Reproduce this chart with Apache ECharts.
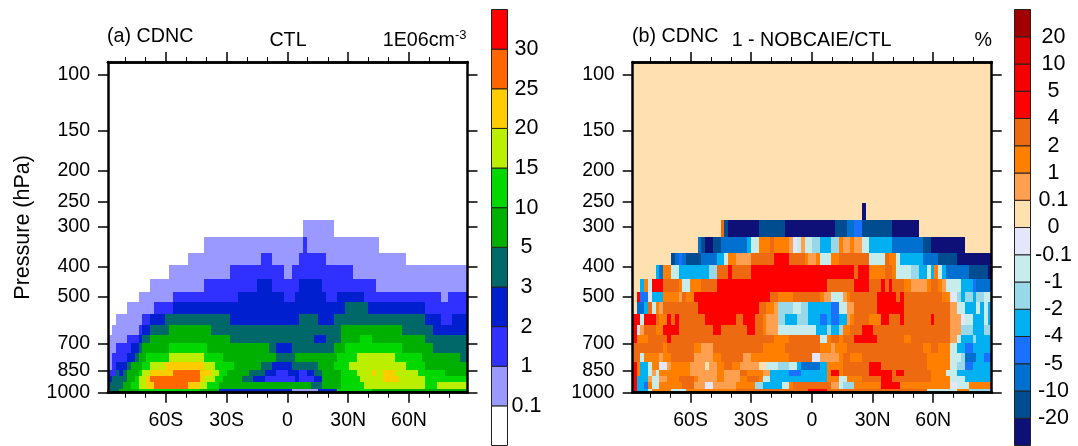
<!DOCTYPE html>
<html>
<head>
<meta charset="utf-8">
<style>html,body{margin:0;padding:0;background:#fff}#main{width:1078px;height:446px}</style>
<script src="https://cdn.jsdelivr.net/npm/echarts@6/dist/echarts.min.js"></script>
</head>
<body>
<div id="main"></div>
<script>
// latitude grid, 94 boxes of the model grid
var firstLat = -88.6;
var latStep = 1.888;

var pressureEdges = [253, 286, 323, 362, 396, 440, 482, 518, 566, 612, 658, 699, 752, 799, 848, 884, 927, 976, 1000];
var pressureTicks = [100, 150, 200, 250, 300, 400, 500, 700, 850, 1000];
var latMajor = [-60, -30, 0, 30, 60];
var latMinor = [-80, -70, -50, -40, -20, -10, 10, 20, 40, 50, 70, 80];
var latLabels = {'-60': '60S', '-30': '30S', '0': '0', '30': '30N', '60': '60N'};

// each row, top to bottom: value, last column, value, last column ...
var ctlRows = [
    [0,94],
    [0,51, .5,59, 0,94],
    [0,25, .5,51, 1.5,52, .5,71, 0,94],
    [0,21, .5,40, 1.5,43, .5,50, 1.5,57, .5,78, 0,94],
    [0,16, .5,32, 1.5,46, .5,48, 1.5,64, .5,94],
    [0,11, .5,25, 1.5,39, 2.5,43, 1.5,50, 2.5,56, 1.5,70, .5,94],
    [0,8, .5,17, 1.5,34, 2.5,46, 1.5,49, 2.5,57, 1.5,60, 2.5,67, 1.5,87, .5,89, 1.5,94],
    [0,5, .5,12, 1.5,17, 2.5,62, 4,68, 2.5,83, 1.5,94],
    [0,2, .5,9, 1.5,11, 2.5,15, 4,32, 2.5,50, 4,55, 2.5,59, 4,83, 2.5,87, 1.5,90, 2.5,94],
    [0,1, .5,8, 1.5,9, 2.5,11, 4,16, 7.5,27, 4,61, 7.5,77, 4,85, 2.5,94],
    [.5,5, 1.5,8, 2.5,9, 4,11, 7.5,32, 4,54, 2.5,57, 4,61, 7.5,66, 12.5,69, 7.5,83, 4,94],
    [.5,2, 1.5,6, 2.5,8, 4,9, 7.5,16, 12.5,26, 7.5,42, 4,44, 2.5,48, 4,59, 7.5,62, 12.5,77, 7.5,85, 4,94],
    [.5,1, 1.5,5, 2.5,7, 4,8, 7.5,10, 12.5,16, 17.5,25, 12.5,30, 7.5,44, 4,49, 7.5,60, 12.5,65, 17.5,75, 12.5,82, 7.5,92, 4,94],
    [.5,1, 1.5,2, 2.5,5, 4,6, 7.5,9, 12.5,11, 17.5,15, 22.5,25, 17.5,28, 12.5,33, 7.5,40, 4,43, 2.5,48, 4,55, 7.5,59, 12.5,63, 17.5,78, 12.5,83, 7.5,94],
    [1.5,2, 4,3, 2.5,4, 4,5, 7.5,8, 12.5,9, 17.5,11, 22.5,17, 27.5,24, 22.5,27, 17.5,29, 12.5,31, 7.5,37, 4,41, 2.5,44, 1.5,47, 2.5,50, 1.5,52, 2.5,54, 4,56, 7.5,61, 12.5,65, 17.5,69, 22.5,70, 17.5,72, 22.5,75, 17.5,81, 12.5,88, 7.5,94],
    [2.5,1, 4,5, 7.5,7, 12.5,8, 17.5,10, 22.5,11, 27.5,24, 22.5,25, 17.5,28, 12.5,30, 7.5,35, 4,38, 2.5,41, 1.5,49, 2.5,50, 1.5,54, 2.5,56, 7.5,61, 12.5,66, 17.5,72, 22.5,76, 17.5,83, 12.5,94],
    [4,4, 7.5,6, 12.5,8, 17.5,10, 22.5,12, 27.5,21, 22.5,24, 17.5,26, 12.5,29, 7.5,53, 4,56, 7.5,61, 12.5,67, 17.5,83, 12.5,86, 17.5,94],
    [4,3, 7.5,8, 12.5,24, 7.5,29, 2.5,48, .5,55, 2.5,60, 12.5,69, 7.5,94]
];

var diffRows = [
    [.05,60, -25,61, .05,94],
    [.05,23, 3,24, -15,25, -25,33, -15,40, -25,53, -15,56, -7.5,58, -4.5,60, -15,68, -25,75, .05,94],
    [.05,17, -7.5,18, -15,19, -25,21, -15,23, -7.5,30, -3,31, -.5,33, 1.5,36, 3,37, 1.5,41, .5,42, -.05,43, -.5,44, .5,45, -.5,47, -1.5,49, -3,52, -1.5,54, 1.5,55, .5,57, 1.5,58, .5,60, -.5,62, -3,68, -7.5,76, -15,78, -25,87, .05,94],
    [.05,10, -15,11, -7.5,12, -4.5,13, -7.5,14, -15,18, -7.5,22, -3,24, -.5,25, 1.5,27, .5,31, 3,37, 4.5,41, 3,45, 1.5,46, .5,48, 1.5,49, -.5,52, 1.5,54, 3,62, -.5,66, 3,67, 1.5,69, -.5,70, -3,76, -7.5,80, -15,85, -25,94],
    [.05,6, -3,7, -7.5,8, 1.5,10, -.5,12, -3,20, -1.5,22, 3,25, 4.5,26, 3,31, 4.5,58, 3,59, 4.5,62, 1.5,66, 3,68, 1.5,69, -.5,73, -1.5,75, -3,77, -.5,78, -3,79, 1.5,80, -.5,81, -3,82, -7.5,88, -15,93, -25,94],
    [.05,2, -3,3, 1.5,4, -.5,5, 4.5,8, 3,12, 1.5,13, -.5,15, 1.5,18, 3,22, 4.5,51, 3,58, 4.5,62, 3,65, 4.5,66, 3,67, 4.5,68, 3,71, 1.5,73, .5,77, 1.5,78, 3,80, 1.5,81, .5,82, -.5,86, -3,89, -4.5,90, -7.5,94],
    [.05,1, 4.5,2, -4.5,4, -.05,5, -3,8, 1.5,12, .5,13, 3,14, 1.5,16, 4.5,36, 3,38, 1.5,42, 3,49, 1.5,50, .5,52, -.5,55, .5,56, 1.5,57, 3,64, 4.5,69, 3,70, 4.5,71, 3,81, 1.5,83, -.05,85, -1.5,86, -3,87, -1.5,89, -3,90, -1.5,92, -.5,94],
    [.05,1, -7.5,3, -3,4, 3,5, -.5,6, 1.5,7, .5,8, 3,17, 4.5,33, 3,35, 1.5,37, .5,38, -1.5,42, -.5,44, -1.5,46, -3,52, -4.5,54, -.5,56, .5,58, 3,64, 4.5,71, 3,83, .5,85, -.5,87, -3,90, -.5,91, -3,92, -.5,93, -3,94],
    [4.5,2, -.5,3, 4.5,6, 3,7, 1.5,9, 4.5,10, 3,11, 4.5,12, 3,19, 4.5,27, 3,29, 4.5,32, 3,34, 1.5,35, .5,38, -1.5,40, -3,43, -1.5,46, -3,49, -4.5,51, -3,52, -4.5,54, -3,56, .5,57, 1.5,58, 3,62, 1.5,65, 4.5,67, 3,70, 4.5,71, 3,78, 4.5,79, 3,83, .5,86, -.05,87, -.5,89, -3,92, -.5,93, -3,94],
    [4.5,1, -.5,2, .5,3, 3,6, 1.5,8, 4.5,12, 3,21, 4.5,23, 3,30, 4.5,32, 3,34, 1.5,35, .5,38, -.5,48, -3,51, -1.5,52, -3,54, -1.5,55, 1.5,57, 3,60, 4.5,63, 3,83, .5,86, -1.5,89, -3,92, -1.5,94],
    [4.5,1, 1.5,4, 3,9, 4.5,10, 3,37, 1.5,41, 3,49, -.5,51, 1.5,52, 3,54, 1.5,55, 3,58, 4.5,64, 3,71, 1.5,73, 3,83, .5,85, -.5,86, -3,89, -1.5,90, -3,94],
    [3,8, 1.5,9, 3,16, 1.5,18, .5,21, 3,34, 1.5,40, 3,49, 1.5,52, .5,53, 1.5,56, 3,76, 1.5,78, 3,80, 1.5,83, -.5,85, -3,87, -4.5,89, -3,94],
    [3,2, -.5,3, 1.5,7, .5,8, 1.5,10, 3,16, .5,21, 1.5,23, 3,29, .5,31, 1.5,41, 3,47, -.05,49, .5,54, 1.5,55, 3,57, 1.5,60, 3,77, 1.5,83, -.5,86, -1.5,87, -7.5,90, -3,92, -4.5,94],
    [4.5,1, 1.5,2, -3,4, -.5,5, 1.5,7, -.05,9, .5,10, 1.5,15, .5,19, .05,20, .5,22, 1.5,24, 3,26, 1.5,28, .5,33, .05,35, -.5,38, -1.5,41, -.5,43, -3,44, -7.5,49, -3,51, 1.5,55, 3,62, 4.5,65, 3,77, 1.5,83, -.5,85, -1.5,87, -4.5,89, -3,94],
    [4.5,1, 1.5,2, -3,4, -.5,5, .5,6, -.5,7, 1.5,15, .5,22, 1.5,24, .5,28, 3,30, 1.5,34, .5,36, -3,41, -4.5,44, -3,51, 1.5,52, 4.5,54, 1.5,55, 3,62, 4.5,68, 3,69, 4.5,71, 3,78, 1.5,82, -.5,85, -3,94],
    [4.5,1, -3,4, .5,5, -.5,7, .5,9, 1.5,12, 3,16, 1.5,17, .5,22, 1.5,24, .5,28, 1.5,30, 3,33, 1.5,34, -.5,36, -3,51, 1.5,54, -.5,56, 1.5,60, 3,65, 4.5,68, 3,78, 1.5,83, -.5,87, -3,94],
    [4.5,1, -3,3, -4.5,4, 1.5,5, -.5,7, 1.5,13, 3,16, .5,19, -.05,21, .5,27, 1.5,32, -1.5,34, -3,39, -.5,41, 1.5,42, 3,52, .5,54, -.5,55, -1.5,58, 1.5,65, 4.5,70, 1.5,83, -.05,85, -.5,88, 1.5,94],
    [4.5,1, -3,4, -.5,5, 1.5,10, -.5,14, 1.5,27, 3,46, 4.5,51, 3,77, -.5,85, 1.5,88, -1.5,94]
];

// colour bars, bottom to top
var ctlBreaks = ['0.1', '1', '2', '3', '5', '10', '15', '20', '25', '30'];
var ctlColors = ['#FFFFFF', '#9999FF', '#3030FF', '#0020D0', '#006868', '#00B000', '#00D800', '#BBEE00', '#FFCC00', '#FF6600', '#FF0000'];
var diffBreaks = ['-20', '-10', '-5', '-4', '-2', '-1', '-0.1', '0', '0.1', '1', '2', '4', '5', '10', '20'];
var diffColors = ['#0F0F78', '#004C90', '#0070D0', '#1A70FF', '#00B0F0', '#98D8E8', '#C6ECEC', '#E6E6FA', '#FFE0B0', '#FFA050', '#FF8000', '#EE6A10', '#FF0000', '#F50000', '#E00000', '#A00000'];

var fontName = '"Liberation Sans", Arial, sans-serif';

function colorOf(v, breaks, colors) {
    for (var i = 0; i < breaks.length; i++) {
        if (v < parseFloat(breaks[i])) return colors[i];
    }
    return colors[colors.length - 1];
}

// [west, east, upper pressure, lower pressure, value]
function rowsToCells(rows) {
    var cells = [];
    rows.forEach(function (row, r) {
        var from = 0;
        for (var k = 0; k < row.length; k += 2) {
            cells.push([firstLat + from * latStep, firstLat + row[k + 1] * latStep, pressureEdges[r], pressureEdges[r + 1], row[k]]);
            from = row[k + 1];
        }
    });
    return cells;
}

function cellSeries(cells, gridIdx, breaks, colors) {
    return {
        type: 'custom',
        xAxisIndex: gridIdx * 4,
        yAxisIndex: gridIdx * 2,
        silent: true,
        z: 1,
        data: cells,
        renderItem: function (params, api) {
            var p0 = api.coord([api.value(0), api.value(2)]);
            var p1 = api.coord([api.value(1), api.value(3)]);
            var x = Math.round(p0[0]), y = Math.round(p0[1]);
            return {
                type: 'rect',
                shape: {x: x, y: y, width: Math.round(p1[0]) - x, height: Math.round(p1[1]) - y},
                style: {fill: colorOf(api.value(4), breaks, colors)}
            };
        }
    };
}

function barSeries(colors, xIdx, yIdx) {
    return {
        type: 'custom',
        xAxisIndex: xIdx,
        yAxisIndex: yIdx,
        silent: true,
        data: colors.map(function (c, i) { return [i]; }),
        renderItem: function (params, api) {
            var i = api.value(0);
            var p0 = api.coord([0, i + 1]);
            var p1 = api.coord([1, i]);
            return {
                type: 'rect',
                shape: {x: p0[0], y: p0[1], width: p1[0] - p0[0], height: p1[1] - p0[1]},
                style: {fill: colors[i], stroke: '#222', lineWidth: 1}
            };
        }
    };
}

var xAxes = [], yAxes = [];
function addPanel(gridIdx, hasName) {
    var common = {
        type: 'value', gridIndex: gridIdx, min: firstLat, max: 88.9, splitLine: {show: false}, z: 10,
        axisLine: {onZero: false, lineStyle: {color: '#000', width: 2.5}}
    };
    ['bottom', 'top'].forEach(function (pos) {
        xAxes.push(Object.assign({}, common, {
            position: pos,
            axisTick: {length: 10, customValues: latMajor, lineStyle: {color: '#000', width: 1.5}},
            axisLabel: pos == 'bottom' ? {
                customValues: latMajor, margin: 18, color: '#000', fontFamily: fontName, fontSize: 19.5,
                formatter: function (v) { return latLabels[String(Math.round(v))]; }
            } : {show: false}
        }));
        xAxes.push(Object.assign({}, common, {
            position: pos,
            axisTick: {length: 5, customValues: latMinor, lineStyle: {color: '#000', width: 1}},
            axisLabel: {show: false}
        }));
    });
    ['left', 'right'].forEach(function (pos) {
        var y = {
            type: 'log', logBase: 10, gridIndex: gridIdx, min: 91, max: 1000, inverse: true, position: pos,
            splitLine: {show: false}, minorTick: {show: false}, z: 10,
            axisLine: {onZero: false, lineStyle: {color: '#000', width: 2.5}},
            axisTick: {length: 10, customValues: pressureTicks, lineStyle: {color: '#000', width: 1.5}},
            axisLabel: pos == 'left' ? {
                customValues: pressureTicks, margin: 18, color: '#000', fontFamily: fontName, fontSize: 19.5,
                padding: [3, 0, 0, 0],
                formatter: function (v) { return String(Math.round(v)); }
            } : {show: false}
        };
        if (pos == 'left' && hasName) {
            y.name = 'Pressure (hPa)';
            y.nameLocation = 'middle';
            y.nameGap = 74;
            y.nameRotate = 90;
            y.nameTextStyle = {color: '#000', fontFamily: fontName, fontSize: 21.5};
        }
        yAxes.push(y);
    });
}
addPanel(0, true);
addPanel(1, false);

function addBarAxes(gridIdx, labels, nBoxes, margin) {
    xAxes.push({type: 'value', gridIndex: gridIdx, min: 0, max: 1, show: false});
    yAxes.push({
        type: 'value', gridIndex: gridIdx, min: 0, max: nBoxes, interval: 1, position: 'right',
        splitLine: {show: false}, axisLine: {show: false}, axisTick: {show: false},
        axisLabel: {
            margin: margin, align: 'center', color: '#000', fontFamily: fontName, fontSize: 21.5,
            padding: [3, 0, 0, 0],
            formatter: function (v) { return v == 0 || v == nBoxes ? '' : labels[v - 1]; }
        }
    });
}
addBarAxes(2, ctlBreaks, ctlColors.length, 19);
addBarAxes(3, diffBreaks, diffColors.length, 23);

function label(x, y, text, align, size) {
    return {
        type: 'text', x: x, y: y, silent: true,
        style: {text: text, fill: '#000', font: (size || 19.7) + 'px ' + fontName, textAlign: align || 'left', textVerticalAlign: 'middle'}
    };
}

var option = {
    animation: false,
    backgroundColor: '#fff',
    grid: [
        {left: 108, top: 62, width: 359.5, height: 330.7},
        {left: 632.7, top: 62, width: 359, height: 330.7, show: true, borderWidth: 0, backgroundColor: '#FFE0B0'},
        {left: 491.5, top: 9.5, width: 16, height: 436},
        {left: 1014.5, top: 9.5, width: 16, height: 436}
    ],
    xAxis: xAxes,
    yAxis: yAxes,
    series: [
        cellSeries(rowsToCells(ctlRows), 0, ctlBreaks, ctlColors),
        cellSeries(rowsToCells(diffRows), 1, diffBreaks, diffColors),
        barSeries(ctlColors, 8, 4),
        barSeries(diffColors, 9, 5)
    ],
    graphic: [
        label(107, 37, '(a) CDNC'),
        label(288, 41, 'CTL', 'center'),
        label(455, 41, '1E06cm', 'right'),
        label(455, 35, '-3', 'left', 13),
        label(632, 37, '(b) CDNC'),
        label(811.5, 41, '1 - NOBCAIE/CTL', 'center'),
        label(992, 41, '%', 'right')
    ]
};

var chart = echarts.init(document.getElementById('main'));
chart.setOption(option);
</script>
</body>
</html>
